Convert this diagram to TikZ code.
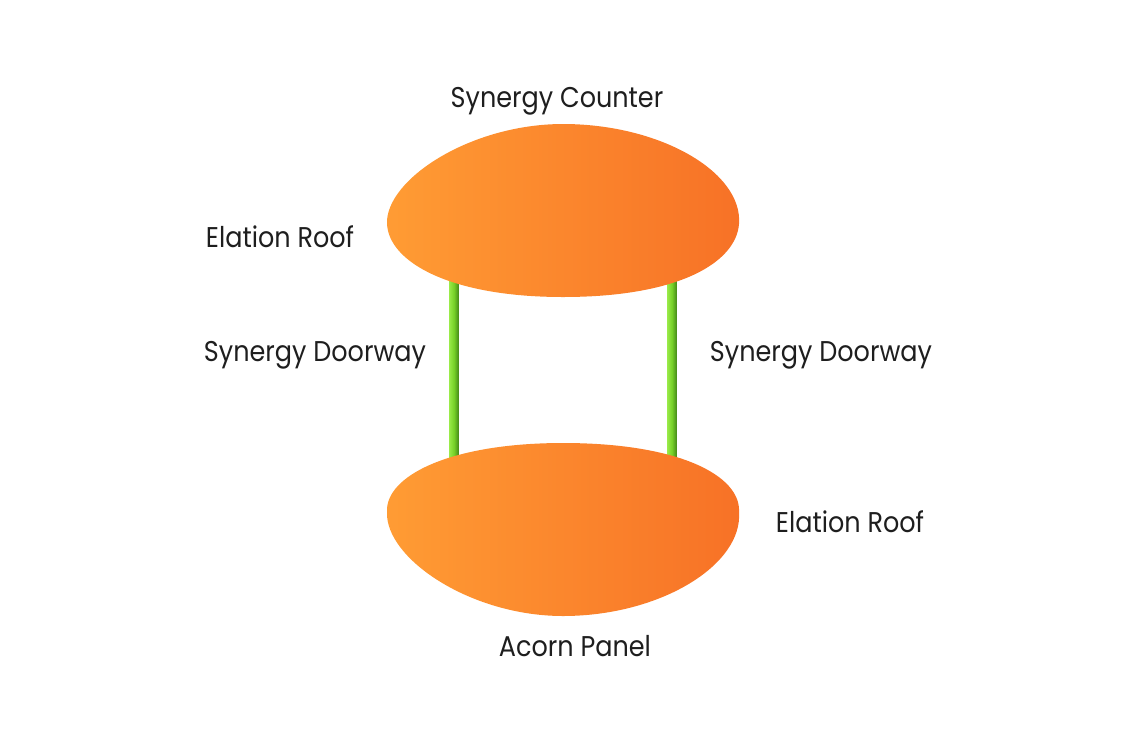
\documentclass[tikz,border=0pt]{standalone}
\usepackage{fontspec}
\setmainfont{Poppins}
\usetikzlibrary{calc}
\definecolor{orL}{RGB}{255,156,52}
\definecolor{orR}{RGB}{247,113,38}
\definecolor{grL}{RGB}{150,232,70}
\definecolor{grM}{RGB}{118,208,40}
\definecolor{grR}{RGB}{70,140,25}
\definecolor{txt}{RGB}{30,30,30}
\tikzset{
  lbl/.style={text=txt, font=\fontsize{25.5}{30}\selectfont, inner sep=0pt, anchor=base, yscale=1.12, transform shape},
  blob/.style={left color=orL, right color=orR, shading=axis},
  pole/.style={left color=grL, right color=grR, middle color=grM, shading=axis},
}
\begin{document}
\begin{tikzpicture}[x=1pt,y=-1pt]
\useasboundingbox (0,0) rectangle (1140,748);
% pole anchor coordinates
\coordinate (tl) at (454,275);
\coordinate (bl) at (454,465);
\coordinate (tr) at (672,275);
\coordinate (br) at (672,465);
% poles
\path[pole] ($(tl)+(-4.5,0)$) rectangle ($(bl)+(4.5,0)$);
\path[pole] ($(tr)+(-4.5,0)$) rectangle ($(br)+(4.5,0)$);
% top blob
\path[blob] (387,224) .. controls (385,180) and (470,124) .. (563,124)
  .. controls (660,124) and (743,172) .. (739,224)
  .. controls (736,262) and (680,297) .. (563,297)
  .. controls (450,297) and (389,262) .. (387,224) -- cycle;
% bottom blob
\path[blob] (387,512) .. controls (385,476) and (450,443) .. (563,443)
  .. controls (680,443) and (741,476) .. (739,512)
  .. controls (743,565) and (660,616) .. (563,616)
  .. controls (470,616) and (385,558) .. (387,512) -- cycle;
% labels
\node[lbl] (sc) at (557,107) {Synergy Counter};
\node[lbl] (er1) at (280,247) {Elation Roof};
\node[lbl] (sd1) at (315,361) {Synergy Doorway};
\node[lbl] (sd2) at (821,361) {Synergy Doorway};
\node[lbl] (er2) at (850,532) {Elation Roof};
\node[lbl] (ap) at (575,656) {Acorn Panel};
\end{tikzpicture}
\end{document}
